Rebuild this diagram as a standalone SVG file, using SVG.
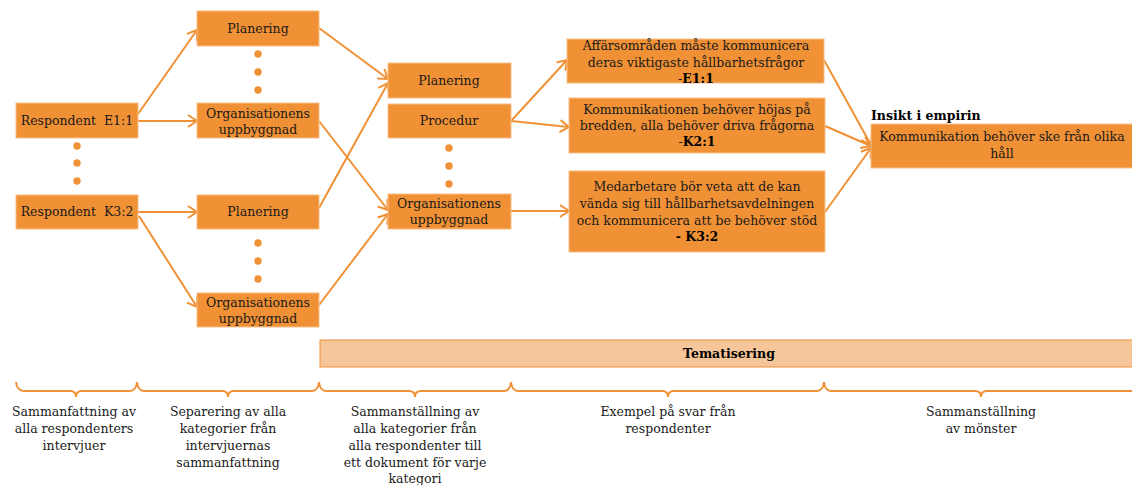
<svg xmlns="http://www.w3.org/2000/svg" width="1132" height="485" viewBox="0 0 1132 485">
<style>
.box{fill:#F09135;stroke:#F7BE8A;stroke-width:1}
.t{font-family:"DejaVu Serif","Liberation Serif",serif;font-size:12.5px;fill:#1a1a1a;text-anchor:middle}
.b{font-weight:bold;fill:#000}
.c{stroke:#F09135;stroke-width:2;fill:none}
.dot{fill:#F09135}
.br{stroke:#F09135;stroke-width:2;fill:none}
</style>
<defs>
<marker id="ah" markerUnits="userSpaceOnUse" markerWidth="14" markerHeight="14" refX="11" refY="7" orient="auto">
<path d="M2,1 L11,7 L2,13" fill="none" stroke="#F09135" stroke-width="2"/>
</marker>
</defs>
<g id="connectors">
<line class="c" x1="138" y1="114" x2="197" y2="30" marker-end="url(#ah)"/>
<line class="c" x1="138" y1="121" x2="197" y2="121" marker-end="url(#ah)"/>
<line class="c" x1="138" y1="212" x2="197" y2="212" marker-end="url(#ah)"/>
<line class="c" x1="139" y1="216" x2="197" y2="307" marker-end="url(#ah)"/>
<line class="c" x1="319" y1="28" x2="388" y2="79" marker-end="url(#ah)"/>
<line class="c" x1="319" y1="121" x2="388" y2="210" marker-end="url(#ah)"/>
<line class="c" x1="319" y1="208" x2="388" y2="83" marker-end="url(#ah)"/>
<line class="c" x1="319" y1="305" x2="388" y2="214" marker-end="url(#ah)"/>
<line class="c" x1="511" y1="121" x2="567" y2="60" marker-end="url(#ah)"/>
<line class="c" x1="511" y1="121" x2="569" y2="127" marker-end="url(#ah)"/>
<line class="c" x1="511" y1="211" x2="569" y2="211" marker-end="url(#ah)"/>
<line class="c" x1="824" y1="60" x2="871" y2="145" marker-end="url(#ah)"/>
<line class="c" x1="825" y1="126" x2="871" y2="146" marker-end="url(#ah)"/>
<line class="c" x1="825" y1="212" x2="871" y2="148" marker-end="url(#ah)"/>
</g>
<g id="resp1"><rect class="box" x="16" y="103" width="122" height="35"/><text class="t" x="77" y="125">Respondent&#160; E1:1</text></g>
<g id="dots1"><circle class="dot" cx="77" cy="146" r="3.7"/><circle class="dot" cx="77" cy="163" r="3.7"/><circle class="dot" cx="77" cy="181" r="3.7"/></g>
<g id="resp2"><rect class="box" x="16" y="195" width="122" height="34"/><text class="t" x="77" y="216">Respondent&#160; K3:2</text></g>
<g id="plan1"><rect class="box" x="197" y="11" width="122" height="35"/><text class="t" x="258" y="33">Planering</text></g>
<g id="dots2"><circle class="dot" cx="258" cy="54" r="3.7"/><circle class="dot" cx="258" cy="72" r="3.7"/><circle class="dot" cx="258" cy="90" r="3.7"/></g>
<g id="org1"><rect class="box" x="197" y="103" width="122" height="35"/><text class="t" x="258" y="118">Organisationens</text><text class="t" x="258" y="134">uppbyggnad</text></g>
<g id="plan2"><rect class="box" x="197" y="195" width="122" height="34"/><text class="t" x="258" y="216">Planering</text></g>
<g id="dots3"><circle class="dot" cx="258" cy="243" r="3.7"/><circle class="dot" cx="258" cy="261" r="3.7"/><circle class="dot" cx="258" cy="279" r="3.7"/></g>
<g id="org2"><rect class="box" x="197" y="293" width="122" height="34"/><text class="t" x="258" y="307">Organisationens</text><text class="t" x="258" y="323">uppbyggnad</text></g>
<g id="plan3"><rect class="box" x="388" y="63" width="123" height="35"/><text class="t" x="449" y="85">Planering</text></g>
<g id="proc"><rect class="box" x="388" y="104" width="123" height="34"/><text class="t" x="449" y="125">Procedur</text></g>
<g id="dots4"><circle class="dot" cx="449" cy="148" r="3.7"/><circle class="dot" cx="449" cy="166" r="3.7"/><circle class="dot" cx="449" cy="184" r="3.7"/></g>
<g id="org3"><rect class="box" x="388" y="194" width="123" height="35"/><text class="t" x="449" y="208">Organisationens</text><text class="t" x="449" y="224">uppbyggnad</text></g>
<g id="ex1"><rect class="box" x="567" y="39" width="257" height="44"/><text class="t" x="696" y="50">Affärsområden måste kommunicera</text><text class="t" x="696" y="67">deras viktigaste hållbarhetsfrågor</text><text class="t" x="696" y="83"><tspan>-</tspan><tspan class="b">E1:1</tspan></text></g>
<g id="ex2"><rect class="box" x="569" y="98" width="256" height="55"/><text class="t" x="697" y="114">Kommunikationen behöver höjas på</text><text class="t" x="697" y="130">bredden, alla behöver driva frågorna</text><text class="t" x="697" y="146"><tspan>-</tspan><tspan class="b">K2:1</tspan></text></g>
<g id="ex3"><rect class="box" x="569" y="171" width="256" height="81"/><text class="t" x="697" y="191">Medarbetare bör veta att de kan</text><text class="t" x="697" y="208">vända sig till hållbarhetsavdelningen</text><text class="t" x="697" y="225">och kommunicera att be behöver stöd</text><text class="t b" x="697" y="241">- K3:2</text></g>
<g id="insight"><text class="t b" x="871" y="120" style="text-anchor:start">Insikt i empirin</text><rect class="box" x="871" y="124" width="263" height="44"/><text class="t" x="1002" y="141">Kommunikation behöver ske från olika</text><text class="t" x="1002" y="158">håll</text></g>
<g id="tematisering"><rect x="320" y="340" width="814" height="27" fill="#F6C69A" stroke="#F09135" stroke-width="1"/><text class="t b" x="729" y="358">Tematisering</text></g>
<g id="braces">
<path class="br" d="M16,382 Q17,391 24,391 L70,391 Q76,391 76,397 Q76,391 82,391 L130,391 Q136,391 137,382 Q138,391 144,391 L222,391 Q228,391 228,397 Q228,391 234,391 L312,391 Q318,391 319,382 Q320,391 326,391 L409,391 Q415,391 415,397 Q415,391 421,391 L504,391 Q510,391 511,382 Q512,391 518,391 L662,391 Q668,391 668,397 Q668,391 674,391 L817,391 Q823,391 824,382 Q825,391 831,391 L975,391 Q981,391 981,397 Q981,391 987,391 L1132,391"/>
</g>
<g id="labels">
<text class="t" x="74" y="416">Sammanfattning av</text><text class="t" x="74" y="433">alla respondenters</text><text class="t" x="74" y="450">intervjuer</text>
<text class="t" x="228" y="416">Separering av alla</text><text class="t" x="228" y="433">kategorier från</text><text class="t" x="228" y="450">intervjuernas</text><text class="t" x="228" y="467">sammanfattning</text>
<text class="t" x="415" y="416">Sammanställning av</text><text class="t" x="415" y="433">alla kategorier från</text><text class="t" x="415" y="450">alla respondenter till</text><text class="t" x="415" y="467">ett dokument för varje</text><text class="t" x="415" y="483">kategori</text>
<text class="t" x="668" y="416">Exempel på svar från</text><text class="t" x="668" y="433">respondenter</text>
<text class="t" x="981" y="416">Sammanställning</text><text class="t" x="981" y="433">av mönster</text>
</g>
</svg>
